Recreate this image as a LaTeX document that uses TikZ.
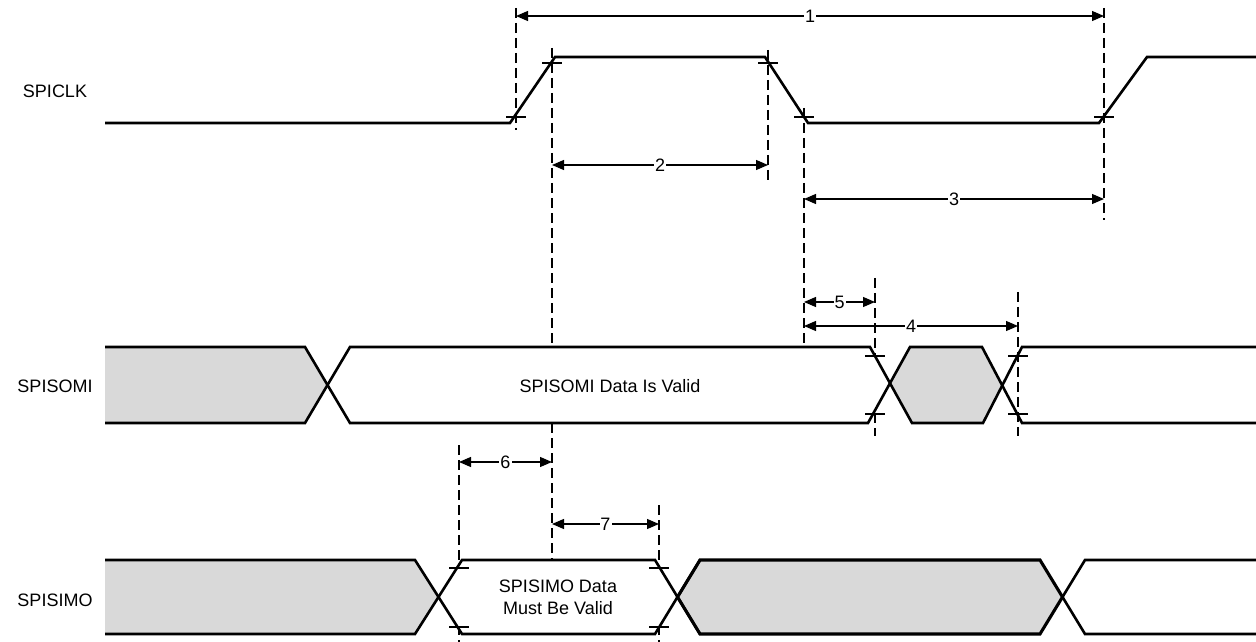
\documentclass[tikz,border=0pt]{standalone}
\usepackage{fontspec}
\setmainfont{Liberation Sans}
\usetikzlibrary{arrows.meta}
\tikzset{
  sig/.style={line width=2.6bp, line join=miter, black},
  sigfat/.style={line width=3.1bp, line join=miter, black},
  dline/.style={line width=1.3bp, dash pattern=on 10bp off 5bp, black},
  tickmark/.style={line width=1.1bp, black},
  dim/.style={line width=1.2bp, {Triangle[length=12bp,width=10bp]}-{Triangle[length=12bp,width=10bp]}},
  lbl/.style={fill=white, inner sep=1bp, font=\fontsize{18bp}{21bp}\selectfont},
  signame/.style={font=\fontsize{18bp}{21bp}\selectfont},
  grayfill/.style={fill=black!15, draw=none},
  whitefill/.style={fill=white, draw=none}
}
\begin{document}
\begin{tikzpicture}[x=1bp,y=-1bp]
\useasboundingbox (0,0) rectangle (1256,642);
% named coordinates of the timing references (dashed lines)
\coordinate (a1t) at (516,8);   \coordinate (a1b) at (516,130);
\coordinate (a2t) at (552,48);  \coordinate (a2b) at (552,560);
\coordinate (a3t) at (768,50);  \coordinate (a3b) at (768,183);
\coordinate (a4t) at (804,108); \coordinate (a4b) at (804,347);
\coordinate (a5t) at (1104,8);  \coordinate (a5b) at (1104,220);
\coordinate (a6t) at (875,278); \coordinate (a6b) at (875,436);
\coordinate (a7t) at (1018,292);\coordinate (a7b) at (1018,436);
\coordinate (a8t) at (459,445); \coordinate (a8b) at (459,642);
\coordinate (a9t) at (659,505); \coordinate (a9b) at (659,642);
% dashed reference lines
\foreach \n in {1,...,9} {\draw[dline] (a\n t) -- (a\n b);}

% signal names
\node[signame] (nclk) at (55,91) {SPICLK};
\node[signame] (nsomi) at (55,386) {SPISOMI};
\node[signame] (nsimo) at (55,600) {SPISIMO};

% SPICLK
\draw[sig] (105,123) -- (510,123) -- (555,57) -- (765,57) -- (808,123) -- (1099,123) -- (1147,57) -- (1256,57);
\foreach \x/\y in {516/117, 552/63, 768/63, 804/117, 1104/117}
  \draw[tickmark] (\x-10,\y) -- (\x+10,\y);

% SPISOMI
\fill[grayfill] (105,347) -- (305,347) -- (327.5,385) -- (305,423) -- (105,423) -- cycle;
\fill[whitefill] (327.5,385) -- (350,347) -- (870,347) -- (890,385) -- (868,423) -- (350,423) -- cycle;
\fill[grayfill] (890,385) -- (910,347) -- (982,347) -- (1002,385) -- (983,423) -- (912,423) -- cycle;
\draw[sig] (105,347) -- (305,347) -- (350,423) -- (868,423) -- (910,347) -- (982,347) -- (1022,423) -- (1256,423);
\draw[sig] (105,423) -- (305,423) -- (350,347) -- (870,347) -- (912,423) -- (983,423) -- (1022,347) -- (1256,347);
\foreach \x in {875,1018} {
  \draw[tickmark] (\x-10,356) -- (\x+10,356);
  \draw[tickmark] (\x-10,414) -- (\x+10,414);
}
\node[signame] (tsomi) at (610,386) {SPISOMI Data Is Valid};

% SPISIMO
\fill[grayfill] (105,560) -- (415,560) -- (438.5,597) -- (415,634) -- (105,634) -- cycle;
\fill[whitefill] (438.5,597) -- (462,560) -- (655,560) -- (677.5,597) -- (655,634) -- (462,634) -- cycle;
\fill[grayfill] (677.5,597) -- (700,560) -- (1040,560) -- (1062.5,597) -- (1040,634) -- (700,634) -- cycle;
\draw[sig] (105,560) -- (415,560) -- (462,634) -- (655,634) -- (700,560);
\draw[sig] (105,634) -- (415,634) -- (462,560) -- (655,560) -- (700,634);
\draw[sigfat] (677.5,597) -- (700,560) -- (1040,560) -- (1062.5,597) -- (1040,634) -- (700,634) -- cycle;
\draw[sig] (1062.5,597) -- (1085,634) -- (1256,634);
\draw[sig] (1062.5,597) -- (1085,560) -- (1256,560);
\foreach \x in {459,659} {
  \draw[tickmark] (\x-10,568) -- (\x+10,568);
  \draw[tickmark] (\x-10,627) -- (\x+10,627);
}
\node[signame, align=center] (tsimo) at (558,597) {SPISIMO Data\\[1bp]Must Be Valid};

% dimension arrows
\coordinate (d1l) at (516,16);  \coordinate (d1r) at (1104,16);
\coordinate (d2l) at (552,165); \coordinate (d2r) at (768,165);
\coordinate (d3l) at (804,199); \coordinate (d3r) at (1104,199);
\coordinate (d5l) at (804,302); \coordinate (d5r) at (875,302);
\coordinate (d4l) at (804,326); \coordinate (d4r) at (1018,326);
\coordinate (d6l) at (459,462); \coordinate (d6r) at (552,462);
\coordinate (d7l) at (552,524); \coordinate (d7r) at (659,524);
\draw[dim] (d1l) -- node[lbl] (l1) {1} (d1r);
\draw[dim] (d2l) -- node[lbl] (l2) {2} (d2r);
\draw[dim] (d3l) -- node[lbl] (l3) {3} (d3r);
\draw[dim] (d5l) -- node[lbl] (l5) {5} (d5r);
\draw[dim] (d4l) -- node[lbl] (l4) {4} (d4r);
\draw[dim] (d6l) -- node[lbl] (l6) {6} (d6r);
\draw[dim] (d7l) -- node[lbl] (l7) {7} (d7r);
\end{tikzpicture}
\end{document}
